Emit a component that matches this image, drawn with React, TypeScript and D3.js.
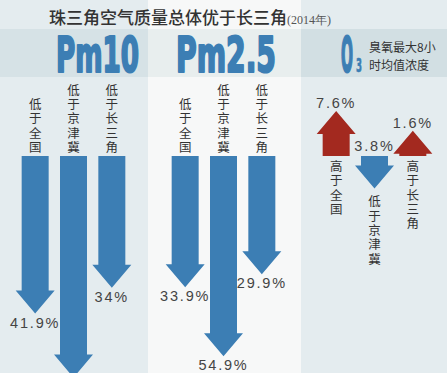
import * as d3 from "d3";

const title = "珠三角空气质量总体优于长三角";
const titleYear = "(2014年)";
const pollutants = ["Pm10", "Pm2.5", "O3"];
const o3Note = ["臭氧最大8小", "时均值浓度"];
const regions = ["全国", "京津冀", "长三角"];
// percent difference of the Pearl River Delta vs each region (negative = lower)
const pm10Values = [-41.9, -61.4, -34];
const pm25Values = [-33.9, -54.9, -29.9];
const o3Values = [7.6, -3.8, 1.6];

const W = 447;
const H = 373;
const BASE_Y = 156;
const SHAFT = 27;
const HEAD_W = 39;
const HEAD_L = 23;

const BLUE = "#3c7eb4";
const RED = "#a3291f";
const TEXT = "#333";
const CJK = "'Noto Sans CJK SC', 'Noto Sans', sans-serif";
const NUM = "'Liberation Sans', Arial, sans-serif";
const HEAD_FONT = "'DejaVu Sans Condensed', 'DejaVu Sans', sans-serif";

const panels = [
  { x0: 0, x1: 148, shift: 0, bg: "#e4ecef", band: "#d6e2e6" },
  { x0: 148, x1: 301, shift: 150, bg: "#f7f8f8", band: "#e8eeee" },
  { x0: 301, x1: W, shift: 301, bg: "#e4ecef", band: "#d2dfe3" },
];

const series = [pm10Values, pm25Values, o3Values];

const inner = d3.scaleBand<string>().domain(regions).range([16, 131]);
const len = d3.scaleLinear().domain([0, 60]).range([20, 217]);
const line = d3.line();

function arrowPath(cx: number, v: number) {
  const dir = v < 0 ? 1 : -1;
  const L = len(Math.abs(v));
  const yh = BASE_Y + dir * (L - HEAD_L);
  const pts: [number, number][] = [
    [cx - SHAFT / 2, BASE_Y],
    [cx + SHAFT / 2, BASE_Y],
    [cx + SHAFT / 2, yh],
    [cx + HEAD_W / 2, yh],
    [cx, BASE_Y + dir * L],
    [cx - HEAD_W / 2, yh],
    [cx - SHAFT / 2, yh],
  ];
  return line(pts) + "Z";
}

const STEP = 14.3;

// stacked vertical label; y0 = baseline of the first character
function VText({ x, y0, text }: { x: number; y0: number; text: string }) {
  return (
    <g>
      {Array.from(text).map((ch, i) => (
        <text key={i} x={x} y={y0 + i * STEP} textAnchor="middle"
          fontFamily={CJK} fontSize={12.5} fill={TEXT}>{ch}</text>
      ))}
    </g>
  );
}

function Head({ x, y, size, w, text, sw = 2.2 }: { x: number; y: number; size: number; w: number; text: string; sw?: number }) {
  return (
    <text x={x} y={y} fontFamily={HEAD_FONT} fontWeight="bold" fontSize={size} fill={BLUE}
      stroke={BLUE} strokeWidth={sw} strokeLinejoin="round" textLength={w} lengthAdjust="spacingAndGlyphs">
      {text}
    </text>
  );
}

export default function App() {
  return (
    <div style={{ position: "absolute", left: 0, top: 0, width: W, height: H }}>
      <svg width={W} height={H} style={{ display: "block" }}>
        {panels.map((p, i) => (
          <g key={i}>
            <rect x={p.x0} y={0} width={p.x1 - p.x0} height={H} fill={p.bg} />
            <rect x={p.x0} y={29} width={p.x1 - p.x0} height={48} fill={p.band} />
          </g>
        ))}

        {/* title */}
        <text x={49} y={24} fontFamily={CJK} fontSize={17} fill={TEXT} fontWeight={500}>
          {title}
          <tspan fontFamily="'Liberation Serif', 'DejaVu Serif', serif" fontSize={12} fill="#555" fontWeight={400}>
            {titleYear}
          </tspan>
        </text>

        {/* headers */}
        <Head x={56} y={72} size={49} w={83} text={pollutants[0]} />
        <Head x={176} y={72} size={49} w={100} text={pollutants[1]} />
        <Head x={341} y={72} size={49} w={12} text={pollutants[2][0]} />
        <Head x={356} y={72} size={20} w={6} sw={0.6} text={pollutants[2][1]} />
        {o3Note.map((t, i) => (
          <text key={t} x={369} y={52 + i * 18} fontFamily={CJK} fontSize={12} fill={TEXT}>{t}</text>
        ))}

        {/* arrows */}
        {series.map((vals, pi) => (
          <g key={pi}>
            {vals.map((v, ri) => {
              const cx = panels[pi].shift + inner(regions[ri])! + inner.bandwidth() / 2;
              const down = v < 0;
              const tip = BASE_Y + (down ? 1 : -1) * len(Math.abs(v));
              const label = (down ? "低于" : "高于") + regions[ri];
              const isO3 = pi === 2;
              let labelY: number;
              if (!isO3) labelY = tip + 14;
              else if (down) labelY = BASE_Y - 5;
              else labelY = tip - 3;
              const chars = Array.from(label).length;
              let y0: number;
              if (!isO3) y0 = 152 - (chars - 1) * STEP;
              else if (down) y0 = tip + 18;
              else y0 = 171;
              return (
                <g key={ri}>
                  <path d={arrowPath(cx, v)} fill={down ? BLUE : RED} />
                  {labelY < H + 12 && (
                    <text x={cx} y={labelY} textAnchor="middle" fontFamily={NUM} fontSize={14.5}
                      letterSpacing={1.8} fill="#444">{Math.abs(v)}%</text>
                  )}
                  <VText x={cx} y0={y0} text={label} />
                </g>
              );
            })}
          </g>
        ))}
      </svg>
    </div>
  );
}
